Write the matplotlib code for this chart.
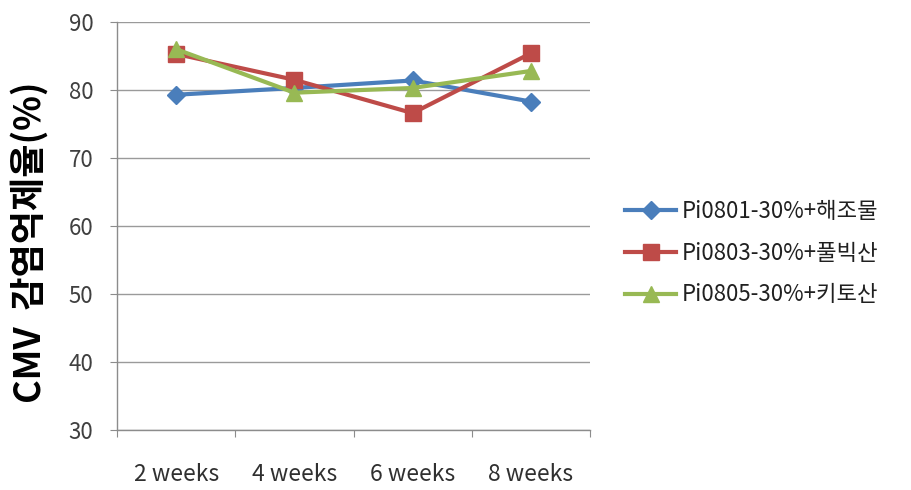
import matplotlib
matplotlib.use("Agg")
import matplotlib.pyplot as plt
import numpy as np

plt.rcParams['font.family'] = ['Noto Sans CJK KR', 'DejaVu Sans']

categories = ["2 weeks", "4 weeks", "6 weeks", "8 weeks"]
series_names = ["Pi0801-30%+해조물", "Pi0803-30%+풀빅산", "Pi0805-30%+키토산"]
pi0801 = [79.3, 80.3, 81.4, 78.3]
pi0803 = [85.3, 81.5, 76.6, 85.4]
pi0805 = [86.0, 79.6, 80.3, 82.8]
y_ticks = [30, 40, 50, 60, 70, 80, 90]

colors = ["#4A7EBB", "#BE4B48", "#98B954"]
markers = ["D", "s", "^"]
msizes = [9, 11, 12]

fig = plt.figure(figsize=(9.11, 4.9), dpi=100)
ax = fig.add_axes([117/911, 1 - 430/490, (590 - 117)/911, (430 - 22)/490])

x = np.arange(len(categories))
for vals, name, c, m, ms in zip([pi0801, pi0803, pi0805], series_names, colors, markers, msizes):
    ax.plot(x, vals, color=c, marker=m, markersize=ms, linewidth=3.0,
            markeredgecolor=c, label=name)

ax.set_xlim(-0.5, len(categories) - 0.5)
ax.set_ylim(30, 90)
ax.set_yticks(y_ticks)
ax.set_yticklabels([str(t) for t in y_ticks], fontsize=16, color="#404040")
ax.yaxis.grid(True, color="#9a9a9a", linewidth=1.0)
ax.set_axisbelow(True)

# boundary ticks between categories, labels centred on categories
ax.set_xticks(np.arange(-0.5, len(categories), 1.0))
ax.set_xticklabels([])
ax.set_xticks(x, minor=True)
ax.set_xticklabels(categories, minor=True, fontsize=16.5, color="#303030")
ax.tick_params(axis='x', which='minor', length=0, pad=24)
ax.tick_params(axis='x', which='major', length=5, color="#8c8c8c", direction='out')
ax.tick_params(axis='y', length=5, color="#8c8c8c", pad=12)

for s in ["top", "right"]:
    ax.spines[s].set_visible(False)
for s in ["left", "bottom"]:
    ax.spines[s].set_color("#8c8c8c")
    ax.spines[s].set_linewidth(1.0)

fig.text(30/911, 1 - 242/490, "CMV  감염억제율(%)", rotation=90, fontsize=26,
         fontweight='bold', ha='center', va='center', color="#000000")

leg = fig.legend(loc='center left', bbox_to_anchor=(605/911, 1 - 253/490),
                 frameon=False, fontsize=16, handlelength=2.3,
                 labelspacing=0.85, handletextpad=0.25)
for t in leg.get_texts():
    t.set_color("#202020")

fig.savefig("out.png", dpi=100)
